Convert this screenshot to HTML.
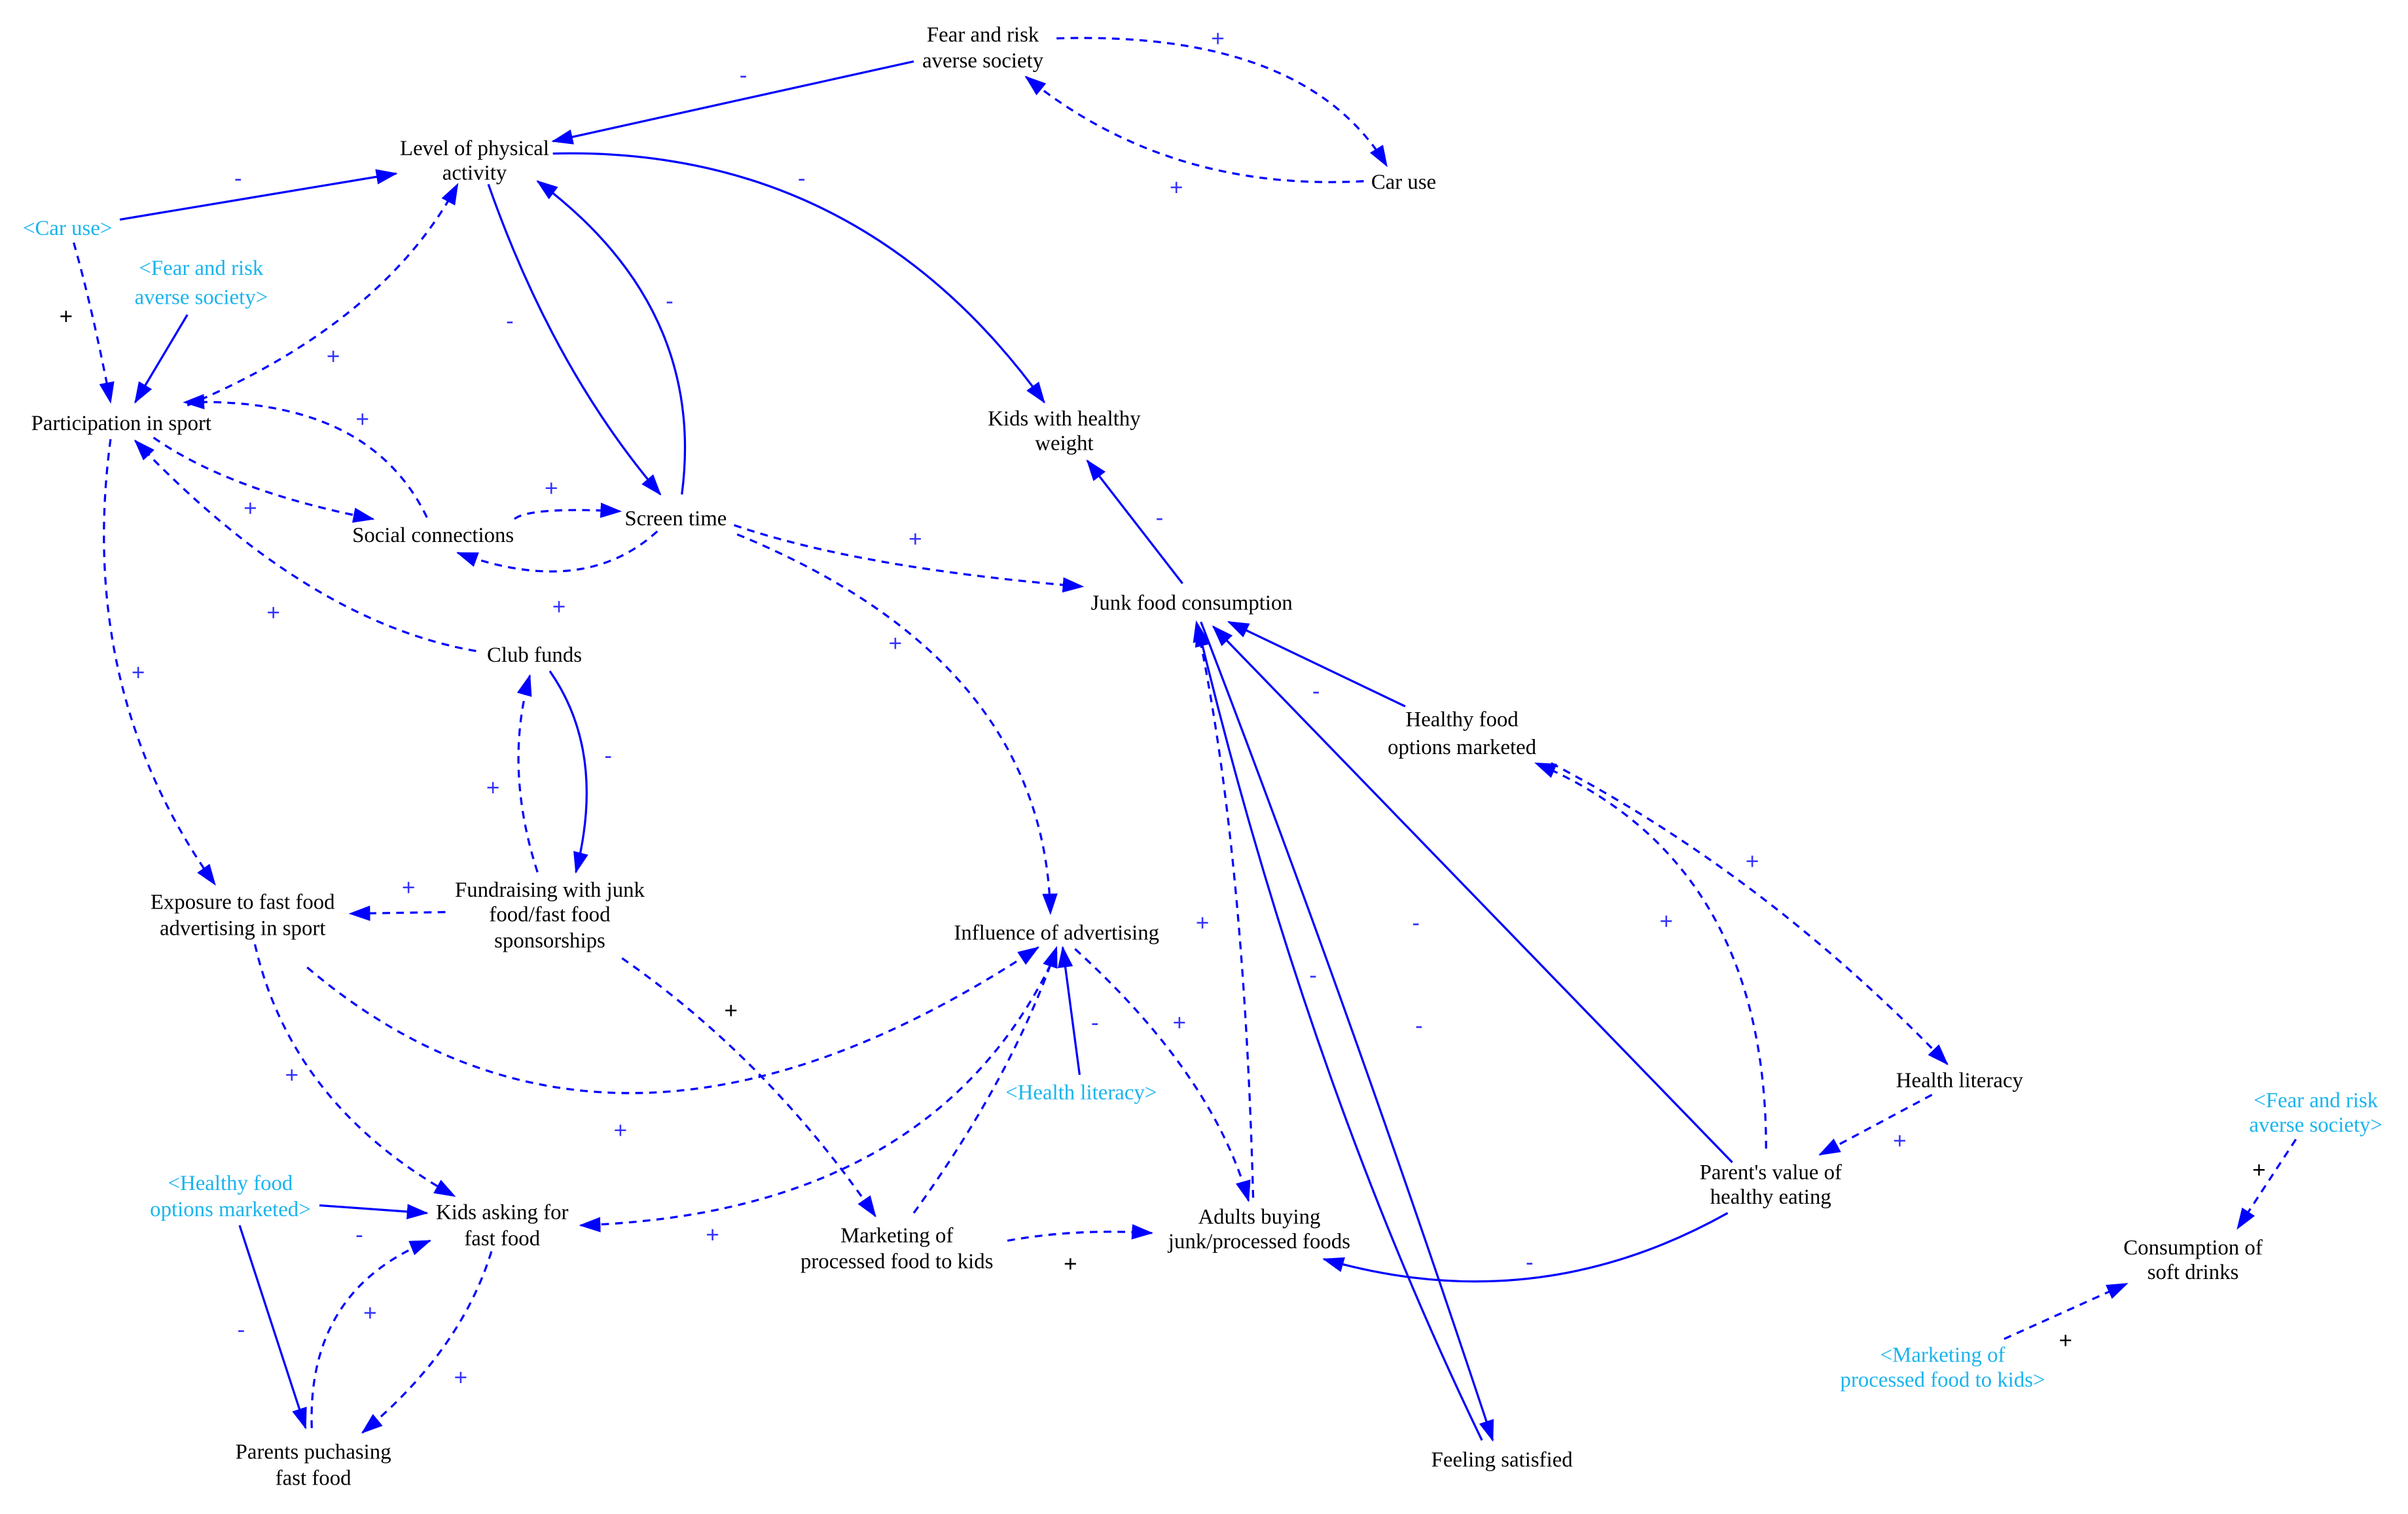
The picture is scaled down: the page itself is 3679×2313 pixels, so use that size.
<!DOCTYPE html>
<html><head><meta charset="utf-8"><style>
html,body{margin:0;padding:0;background:#fff;}
svg{display:block;}
text{font-family:"Liberation Serif",serif;font-size:14px;fill:#000;text-anchor:middle;}
.c{fill:#19b4ee;}
.s{fill:#3333ff;font-family:"Liberation Sans",sans-serif;font-size:15px;}
.k{fill:#000;font-family:"Liberation Sans",sans-serif;font-size:15px;}
path{fill:none;stroke:#0000ff;stroke-width:1.4;}
.d{stroke-dasharray:5,4;}
</style></head><body>
<svg width="3679" height="2313" viewBox="0 0 1568 986" preserveAspectRatio="none" xmlns="http://www.w3.org/2000/svg">
<defs><marker id="a" markerWidth="14" markerHeight="10" refX="13" refY="5" orient="auto" markerUnits="userSpaceOnUse"><polygon points="0,0 14,5 0,10" fill="#0000ff"/></marker></defs>
<g marker-end="url(#a)">
<path d="M595,40 L360,92"/>
<path class="d" d="M688,25 Q850,20 903,108"/>
<path class="d" d="M888,118 Q760,125 668,50"/>
<path d="M78,143 L258,113"/>
<path class="d" d="M48,158 Q60,200 72,262"/>
<path d="M122,205 L88,262"/>
<path class="d" d="M122,264 Q250,210 298,120"/>
<path d="M318,120 Q360,240 430,322"/>
<path d="M444,322 Q460,200 350,118"/>
<path d="M360,100 Q560,95 680,262"/>
<path class="d" d="M278,337 Q240,258 120,262"/>
<path class="d" d="M100,285 Q150,320 243,338"/>
<path class="d" d="M335,338 Q345,330 404,333"/>
<path class="d" d="M428,346 Q380,390 298,360"/>
<path class="d" d="M310,424 Q200,405 88,287"/>
<path class="d" d="M478,342 Q560,370 705,382"/>
<path class="d" d="M480,348 Q680,430 684,595"/>
<path d="M770,380 L708,300"/>
<path d="M915,460 L800,405"/>
<path d="M358,437 Q395,490 375,568"/>
<path class="d" d="M350,568 Q328,500 345,440"/>
<path class="d" d="M72,286 Q50,450 140,576"/>
<path class="d" d="M290,594 L228,595"/>
<path class="d" d="M200,630 Q400,800 676,617"/>
<path class="d" d="M166,615 Q190,720 296,779"/>
<path class="d" d="M688,620 Q610,790 378,798"/>
<path class="d" d="M405,624 Q500,690 570,792"/>
<path class="d" d="M595,790 Q660,700 688,617"/>
<path d="M703,700 L692,617"/>
<path class="d" d="M700,618 Q790,700 813,782"/>
<path class="d" d="M816,780 Q810,550 779,405"/>
<path class="d" d="M656,808 Q700,800 750,803"/>
<path d="M1125,790 Q1000,860 862,820"/>
<path d="M1128,757 L790,408"/>
<path class="d" d="M1150,748 Q1150,560 1000,497"/>
<path class="d" d="M1010,497 Q1150,570 1268,693"/>
<path class="d" d="M1258,713 L1185,752"/>
<path d="M782,405 Q880,660 972,938"/>
<path d="M965,938 Q850,700 780,408"/>
<path d="M208,785 L278,790"/>
<path d="M156,798 L199,930"/>
<path class="d" d="M203,930 Q200,840 280,808"/>
<path class="d" d="M320,815 Q300,880 236,933"/>
<path class="d" d="M1495,742 L1457,800"/>
<path class="d" d="M1305,872 L1385,836"/>
</g>
<!-- signs -->
<text class="s" x="484" y="54">-</text>
<text class="s" x="793" y="30">+</text>
<text class="s" x="766" y="127">+</text>
<text class="s" x="155" y="121">-</text>
<text class="k" x="43" y="211">+</text>
<text class="s" x="217" y="237">+</text>
<text class="s" x="332" y="214">-</text>
<text class="s" x="436" y="201">-</text>
<text class="s" x="522" y="121">-</text>
<text class="s" x="236" y="278">+</text>
<text class="s" x="163" y="336">+</text>
<text class="s" x="359" y="323">+</text>
<text class="s" x="364" y="400">+</text>
<text class="s" x="178" y="404">+</text>
<text class="s" x="596" y="356">+</text>
<text class="s" x="583" y="424">+</text>
<text class="s" x="755" y="342">-</text>
<text class="s" x="857" y="455">-</text>
<text class="s" x="396" y="497">-</text>
<text class="s" x="321" y="518">+</text>
<text class="s" x="90" y="443">+</text>
<text class="s" x="266" y="583">+</text>
<text class="s" x="404" y="741">+</text>
<text class="s" x="190" y="705">+</text>
<text class="s" x="464" y="809">+</text>
<text class="k" x="476" y="663">+</text>
<text class="s" x="713" y="671">-</text>
<text class="s" x="768" y="671">+</text>
<text class="s" x="783" y="606">+</text>
<text class="k" x="697" y="828">+</text>
<text class="s" x="996" y="827">-</text>
<text class="s" x="922" y="606">-</text>
<text class="s" x="1085" y="605">+</text>
<text class="s" x="1141" y="566">+</text>
<text class="s" x="1237" y="748">+</text>
<text class="s" x="924" y="673">-</text>
<text class="s" x="855" y="640">-</text>
<text class="s" x="234" y="809">-</text>
<text class="s" x="157" y="871">-</text>
<text class="s" x="241" y="860">+</text>
<text class="s" x="300" y="902">+</text>
<text class="k" x="1471" y="767">+</text>
<text class="k" x="1345" y="878">+</text>
<!-- nodes -->
<text x="640" y="27">Fear and risk</text><text x="640" y="44">averse society</text>
<text x="309" y="101">Level of physical</text><text x="309" y="117">activity</text>
<text x="914" y="123">Car use</text>
<text class="c" x="44" y="153">&lt;Car use&gt;</text>
<text class="c" x="131" y="179">&lt;Fear and risk</text><text class="c" x="131" y="198">averse society&gt;</text>
<text x="79" y="280">Participation in sport</text>
<text x="693" y="277">Kids with healthy</text><text x="693" y="293">weight</text>
<text x="282" y="353">Social connections</text>
<text x="440" y="342">Screen time</text>
<text x="776" y="397">Junk food consumption</text>
<text x="348" y="431">Club funds</text>
<text x="952" y="473">Healthy food</text><text x="952" y="491">options marketed</text>
<text x="158" y="592">Exposure to fast food</text><text x="158" y="609">advertising in sport</text>
<text x="358" y="584">Fundraising with junk</text><text x="358" y="600">food/fast food</text><text x="358" y="617">sponsorships</text>
<text x="688" y="612">Influence of advertising</text>
<text class="c" x="704" y="716">&lt;Health literacy&gt;</text>
<text x="1276" y="708">Health literacy</text>
<text class="c" x="1508" y="721">&lt;Fear and risk</text><text class="c" x="1508" y="737">averse society&gt;</text>
<text x="1153" y="768">Parent's value of</text><text x="1153" y="784">healthy eating</text>
<text class="c" x="150" y="775">&lt;Healthy food</text><text class="c" x="150" y="792">options marketed&gt;</text>
<text x="327" y="794">Kids asking for</text><text x="327" y="811">fast food</text>
<text x="584" y="809">Marketing of</text><text x="584" y="826">processed food to kids</text>
<text x="820" y="797">Adults buying</text><text x="820" y="813">junk/processed foods</text>
<text x="1428" y="817">Consumption of</text><text x="1428" y="833">soft drinks</text>
<text class="c" x="1265" y="887">&lt;Marketing of</text><text class="c" x="1265" y="903">processed food to kids&gt;</text>
<text x="204" y="950">Parents puchasing</text><text x="204" y="967">fast food</text>
<text x="978" y="955">Feeling satisfied</text>
</svg>
</body></html>
